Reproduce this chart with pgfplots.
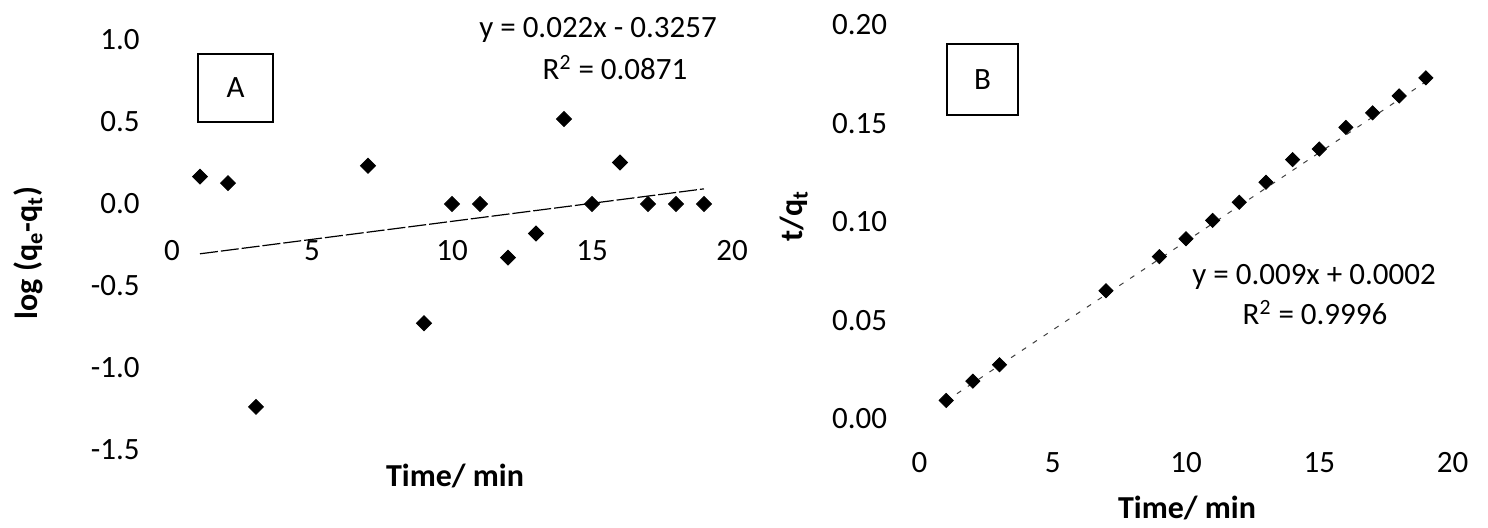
\documentclass[border=0pt]{standalone}
\usepackage{fontspec}
\setmainfont{Carlito}
\usepackage{pgfplots}
\usepackage{pgfplotstable}
\pgfplotsset{compat=1.18}

% pseudo-first-order plot: log(qe - qt) against time
\pgfplotstableread{
t   logq
1   0.167
2   0.127
3   -1.237
7   0.233
9   -0.727
10  0.0
11  0.0
12  -0.327
13  -0.18
14  0.518
15  0.0
16  0.253
17  0.0
18  0.0
19  0.0
}\firstorder

% pseudo-second-order plot: t/qt against time
\pgfplotstableread{
t   tq
1   0.0094
2   0.0192
3   0.0275
7   0.0651
9   0.0824
10  0.0915
11  0.1008
12  0.1100
13  0.1202
14  0.1317
15  0.1370
16  0.1480
17  0.1554
18  0.1640
19  0.1732
}\secondorder

\newcommand{\ticksize}{\fontsize{15.5}{18}\selectfont}
\newcommand{\labelsize}{\fontsize{16}{19}\selectfont\bfseries}

\begin{document}
\begin{tikzpicture}
\useasboundingbox (0,0) rectangle (744pt,264pt);
\pgfplotsset{
  kinetics/.style={
    scale only axis, anchor=south west, clip=false,
    axis line style={draw=none}, major tick length=0pt,
    tick label style={font=\ticksize, inner sep=0pt},
    /pgf/number format/assume math mode=true,
    xmin=0, xmax=20, xtick={0,5,10,15,20},
    yticklabel style={anchor=east, xshift=-16pt},
  },
  pts/.style={only marks, mark=square*, mark size=2.65pt,
    mark options={rotate=45, draw=black, fill=black}},
}

% ---------- panel A ----------
\begin{axis}[kinetics, at={(86pt,39pt)}, width=280pt, height=205pt,
  ymin=-1.5, ymax=1.0, ytick={-1.5,-1,-0.5,0,0.5,1},
  yticklabel style={/pgf/number format/fixed,
    /pgf/number format/fixed zerofill, /pgf/number format/precision=1},
  xticklabel style={anchor=center, yshift=99.5pt}]
  \addplot[black, line width=0.6pt, dash pattern=on 9pt off 1.5pt]
    coordinates {(1,-0.3037) (19,0.0923)};
  \addplot[pts] table[x=t, y=logq] {\firstorder};
\end{axis}

% ---------- panel B ----------
\begin{axis}[kinetics, at={(459.75pt,54.5pt)}, width=266.5pt, height=197pt,
  ymin=0, ymax=0.2, ytick={0,0.05,0.1,0.15,0.2},
  yticklabel style={/pgf/number format/fixed,
    /pgf/number format/fixed zerofill, /pgf/number format/precision=2},
  xticklabel style={anchor=center, yshift=-22pt}]
  \addplot[black!75, line width=0.5pt, dash pattern=on 2.5pt off 4pt]
    coordinates {(1,0.0092) (19,0.1712)};
  \addplot[pts, mark size=2.5pt] table[x=t, y=tq] {\secondorder};
\end{axis}

% panel tags
\draw[line width=1pt] (99pt,203pt) rectangle (136.5pt,237pt);
\node[font=\ticksize] at (117.75pt,220pt) {A};
\draw[line width=1pt] (473.5pt,206.5pt) rectangle (509pt,242pt);
\node[font=\ticksize] at (491.25pt,224pt) {B};

% regression equations
\node[font=\ticksize, anchor=base, inner sep=0pt] at (299pt,245pt) {y = 0.022x - 0.3257};
\node[font=\ticksize, anchor=base, inner sep=0pt] at (307.5pt,224pt) {R\textsuperscript{2} = 0.0871};
\node[font=\ticksize, anchor=base, inner sep=0pt] at (657pt,121.5pt) {y = 0.009x + 0.0002};
\node[font=\ticksize, anchor=base, inner sep=0pt] at (657.5pt,101.5pt) {R\textsuperscript{2} = 0.9996};

% axis titles
\node[font=\labelsize, rotate=90, inner sep=0pt] at (14pt,137.5pt) {log (q\textsubscript{e}-q\textsubscript{t})};
\node[font=\labelsize, inner sep=0pt] at (227.5pt,26pt) {Time/ min};
\node[font=\labelsize, rotate=90, inner sep=0pt] at (397pt,156pt) {t/q\textsubscript{t}};
\node[font=\labelsize, inner sep=0pt] at (593.5pt,10pt) {Time/ min};
\end{tikzpicture}
\end{document}
